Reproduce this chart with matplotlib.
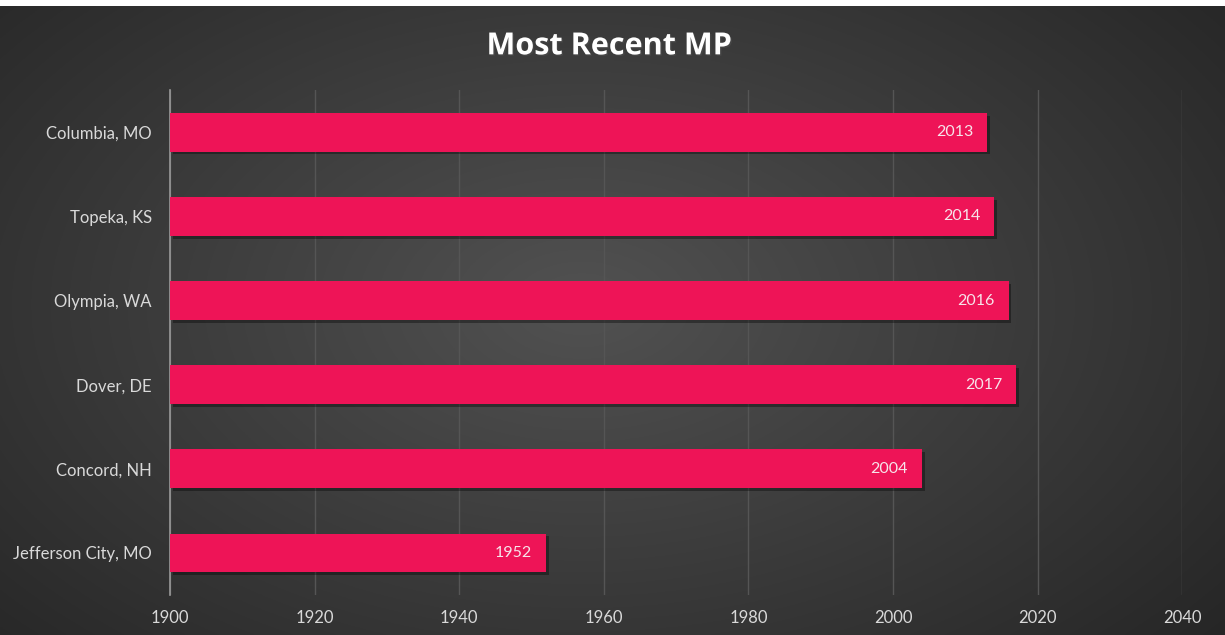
import matplotlib.pyplot as plt
import matplotlib.patheffects as pe
import numpy as np

cities = ['Columbia, MO', 'Topeka, KS', 'Olympia, WA', 'Dover, DE', 'Concord, NH', 'Jefferson City, MO']
years = [2013, 2014, 2016, 2017, 2004, 1952]
ticks = [1900, 1920, 1940, 1960, 1980, 2000, 2020, 2040]

plt.rcParams['font.family'] = ['Lato', 'DejaVu Sans']

fig = plt.figure(figsize=(12.25, 6.35), dpi=100)

# radial gradient background
bg = fig.add_axes([0, 0, 1, 0.991])
yy, xx = np.mgrid[-1:1:400j, -1:1:800j]
r = np.sqrt(((xx + 0.05) * 0.9) ** 2 + ((yy + 0.05) * 0.75) ** 2)
shade = 0.32 - 0.18 * np.clip(r, 0, 1.3) / 1.3
bg.imshow(np.dstack([shade] * 3), aspect='auto', extent=[0, 1, 0, 1])
bg.axis('off')

ax = fig.add_axes([0.1388, 0.063, 0.8262, 0.795])
ax.patch.set_alpha(0)
pos = np.arange(len(cities))[::-1]
bars = ax.barh(pos, [y - 1900 for y in years], left=1900, height=0.46,
               color='#EE1457', zorder=3)
for b in bars:
    b.set_path_effects([pe.SimplePatchShadow(offset=(2, -2), shadow_rgbFace='black', alpha=0.35), pe.Normal()])
for p, y in zip(pos, years):
    ax.annotate(str(y), (y, p), xytext=(-10, 0), textcoords='offset points',
                ha='right', va='center', color='#F7E4EA', fontsize=11.5, zorder=4)

ax.set_xlim(1900, 2040)
ax.set_ylim(-0.5, 5.5)
ax.set_xticks(ticks)
ax.set_yticks(pos)
ax.set_yticklabels(cities)
ax.tick_params(length=0, colors='#D9D9D9', labelsize=12)
ax.tick_params(axis='x', pad=11)
ax.tick_params(axis='y', pad=13)
ax.grid(axis='x', color='#555555', lw=1, zorder=0)
for s in ['top', 'right', 'bottom']:
    ax.spines[s].set_visible(False)
ax.spines['left'].set_color('#9A9A9A')
ax.spines['left'].set_linewidth(1.2)

fig.text(0.497, 0.927, 'Most Recent MP', color='white', fontsize=22, fontweight='bold',
         family=['Open Sans', 'DejaVu Sans'], ha='center', va='center',
         path_effects=[pe.withSimplePatchShadow(offset=(1, -1), alpha=0.6)])

fig.savefig('out.png', dpi=100, facecolor='white')
